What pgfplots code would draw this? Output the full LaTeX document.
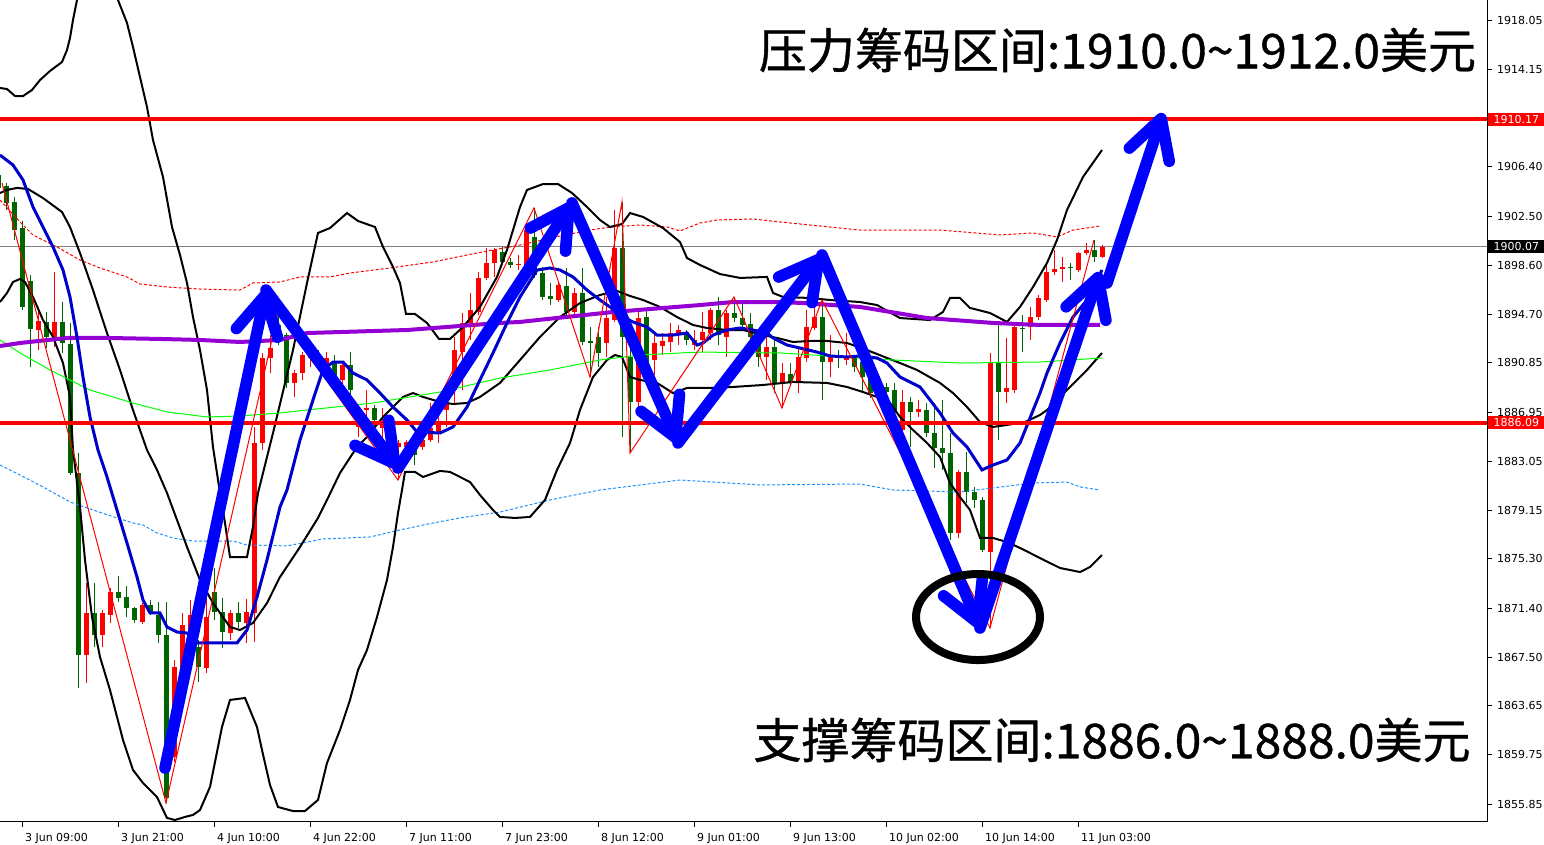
\documentclass[border=0pt]{standalone}
\usepackage{fontspec}
\setmainfont{DejaVu Sans}
\newfontfamily\cjk[FakeBold=0.8]{Noto Sans CJK SC}
\usepackage{pgfplots}
\pgfplotsset{compat=1.18}
\usepackage{pgfplotstable}
\usetikzlibrary{arrows.meta}
\definecolor{cgreen}{RGB}{0,100,0}
\definecolor{cred}{RGB}{255,0,0}
\definecolor{mablue}{RGB}{0,0,205}
\definecolor{cpurple}{RGB}{148,0,211}
\definecolor{clime}{RGB}{0,255,0}
\definecolor{dblue}{RGB}{30,144,255}
\definecolor{abblue}{RGB}{0,0,255}

% bearish candles (green): x, body low, body high, wick low, wick high
\pgfplotstableread{
x bl bh wl wh
-2 1904.73 1905.76 1904.57 1906.15
6 1903.54 1904.88 1902.98 1905.12
14 1901.39 1903.62 1900.60 1904.01
22 1895.29 1901.55 1895.05 1902.11
30 1893.54 1897.35 1890.53 1897.82
46 1892.91 1894.10 1892.03 1894.89
62 1892.43 1894.10 1891.63 1895.68
70 1882.12 1892.35 1881.96 1894.02
78 1867.68 1882.12 1865.06 1883.70
94 1869.27 1871.01 1868.31 1873.39
118 1872.20 1872.68 1871.88 1873.95
126 1871.41 1872.28 1870.69 1873.15
134 1870.45 1871.41 1870.22 1871.49
150 1871.01 1871.65 1870.85 1872.04
158 1869.27 1870.85 1868.63 1871.88
166 1856.33 1869.27 1855.94 1871.88
198 1866.73 1868.31 1865.54 1868.87
214 1871.09 1872.68 1870.45 1874.58
222 1869.50 1871.09 1868.23 1872.20
238 1870.29 1871.01 1869.82 1871.88
278 1892.91 1893.86 1892.27 1894.65
286 1889.26 1893.06 1888.86 1893.22
318 1890.45 1891.32 1890.29 1891.87
334 1889.49 1890.92 1889.10 1891.48
350 1888.70 1890.68 1887.11 1891.71
374 1886.32 1887.27 1885.77 1887.51
414 1883.55 1884.10 1882.75 1884.50
502 1898.86 1899.65 1898.62 1900.05
510 1898.62 1898.86 1898.38 1899.17
534 1897.82 1900.84 1897.59 1903.14
542 1896.08 1897.98 1895.84 1898.46
550 1895.92 1896.16 1895.45 1897.19
566 1894.89 1896.95 1894.65 1898.38
582 1892.51 1896.40 1892.27 1898.38
590 1892.43 1892.59 1889.73 1893.70
598 1891.63 1892.91 1890.53 1893.70
622 1892.91 1899.97 1884.97 1903.62
630 1887.75 1891.32 1883.70 1893.46
646 1890.92 1894.49 1890.45 1895.05
686 1892.67 1893.30 1892.27 1893.46
718 1893.06 1895.05 1892.27 1896.08
734 1894.41 1894.81 1894.10 1896.08
742 1893.86 1894.41 1893.46 1895.60
750 1892.91 1893.94 1892.51 1894.81
758 1891.32 1892.91 1890.53 1893.46
774 1889.26 1892.11 1888.46 1892.91
790 1889.34 1889.97 1889.10 1890.84
822 1890.92 1894.49 1887.91 1895.84
838 1891.24 1891.48 1890.45 1891.87
854 1890.53 1891.24 1890.13 1891.48
862 1889.73 1890.92 1888.46 1891.63
870 1888.46 1889.73 1888.07 1890.13
878 1888.70 1888.94 1888.31 1889.26
886 1888.54 1888.94 1888.15 1889.26
894 1886.88 1888.70 1886.48 1889.26
910 1886.96 1887.75 1884.18 1888.15
926 1885.29 1887.11 1884.97 1887.67
934 1884.10 1885.29 1882.51 1887.67
942 1883.70 1884.10 1882.35 1887.91
950 1877.36 1883.70 1876.80 1885.29
966 1880.61 1882.20 1879.74 1883.78
974 1879.97 1880.61 1879.34 1881.01
982 1876.01 1879.97 1875.85 1880.21
998 1888.54 1890.92 1884.73 1893.86
1022 1893.54 1893.62 1891.71 1894.65
1070 1898.38 1898.46 1897.43 1898.78
1094 1899.25 1899.81 1898.86 1900.60
}\greencandles

% bullish candles (red)
\pgfplotstableread{
x bl bh wl wh
38 1893.46 1894.18 1891.87 1895.05
54 1892.91 1894.10 1892.11 1898.06
86 1867.68 1871.01 1865.46 1873.39
102 1869.27 1871.01 1868.31 1871.25
110 1870.85 1872.68 1870.22 1873.00
142 1870.29 1871.65 1870.14 1871.80
174 1859.59 1866.73 1859.19 1867.28
182 1863.87 1870.06 1863.32 1871.01
190 1868.23 1870.85 1867.28 1872.04
206 1866.65 1870.69 1866.25 1872.84
230 1869.42 1871.01 1868.87 1871.25
246 1870.22 1871.09 1868.63 1872.12
254 1871.01 1884.50 1868.71 1885.77
262 1884.50 1891.24 1883.94 1891.63
270 1891.24 1892.03 1890.05 1893.06
294 1889.26 1890.05 1888.15 1890.29
302 1890.05 1891.48 1889.49 1891.71
310 1891.24 1891.71 1890.53 1892.27
326 1889.89 1891.24 1889.49 1891.71
342 1889.49 1890.68 1889.10 1890.92
358 1885.77 1886.16 1884.97 1886.56
366 1887.11 1887.27 1885.29 1888.70
382 1885.69 1886.08 1884.73 1887.27
390 1884.50 1884.73 1883.94 1885.53
398 1884.18 1884.50 1881.56 1884.73
406 1884.18 1884.58 1883.55 1884.73
422 1884.18 1884.73 1883.94 1884.97
430 1884.73 1885.69 1884.58 1887.67
438 1885.37 1886.16 1884.50 1886.56
446 1887.11 1887.67 1885.77 1888.15
454 1888.70 1891.87 1887.67 1892.91
462 1891.71 1894.02 1888.70 1894.81
470 1894.02 1895.05 1892.67 1896.40
478 1894.89 1897.59 1894.65 1898.06
486 1897.59 1898.78 1897.43 1899.97
494 1898.78 1899.81 1897.67 1899.97
518 1898.62 1898.70 1898.22 1899.41
526 1898.62 1901.39 1898.38 1901.55
558 1895.84 1897.03 1895.68 1897.27
574 1894.89 1896.40 1894.65 1896.79
606 1892.43 1894.41 1891.32 1896.08
614 1894.26 1899.97 1894.10 1902.98
638 1887.75 1894.41 1887.11 1894.89
654 1891.08 1892.43 1889.89 1893.22
662 1892.19 1892.59 1891.48 1893.22
670 1892.51 1893.22 1891.71 1894.02
678 1893.22 1893.46 1892.27 1893.86
694 1892.27 1892.67 1891.87 1893.46
702 1892.67 1893.30 1891.71 1894.89
710 1893.22 1895.05 1892.67 1895.21
726 1892.91 1894.81 1891.32 1895.05
766 1891.32 1892.11 1889.49 1892.91
782 1889.26 1890.05 1887.27 1890.84
798 1889.34 1891.32 1888.46 1892.03
806 1891.24 1893.70 1890.92 1895.05
814 1893.62 1894.49 1893.46 1895.29
830 1890.92 1891.32 1889.73 1893.06
846 1891.08 1891.24 1890.68 1893.22
902 1885.53 1887.75 1885.29 1888.70
918 1886.96 1887.19 1886.56 1887.91
958 1877.36 1882.20 1876.96 1882.35
990 1875.85 1890.84 1869.82 1891.63
1006 1888.54 1888.86 1887.67 1892.83
1014 1888.70 1893.70 1888.46 1893.86
1030 1893.70 1894.49 1892.67 1895.29
1038 1894.49 1896.00 1894.26 1896.24
1046 1895.84 1898.06 1895.68 1898.78
1054 1898.06 1898.30 1897.82 1899.81
1062 1898.30 1898.46 1897.27 1899.25
1078 1898.22 1899.57 1898.06 1899.65
1086 1899.57 1899.81 1899.41 1900.36
1102 1899.25 1900.07 1899.17 1900.20
}\redcandles

\begin{document}
\begin{tikzpicture}
\begin{axis}[
  at={(0,0)}, anchor=south west,
  width=743.5pt, height=411pt, scale only axis,
  xmin=0, xmax=1487, ymin=1854.43, ymax=1919.64,
  axis x line*=bottom, axis y line*=right,
  axis line style={line width=0.5pt, black},
  tick align=outside, major tick length=2.5pt,
  tick style={black, line width=0.5pt},
  xtick={22,118,214,310,406,502,598,694,790,886,982,1078},
  xticklabels={3 Jun 09:00,3 Jun 21:00,4 Jun 10:00,4 Jun 22:00,7 Jun 11:00,7 Jun 23:00,8 Jun 12:00,9 Jun 01:00,9 Jun 13:00,10 Jun 02:00,10 Jun 14:00,11 Jun 03:00},
  xticklabel style={anchor=north west, xshift=-2pt, yshift=0.5pt, font=\fontsize{5.5}{6}\selectfont},
  ytick={1855.85,1859.75,1863.65,1867.50,1871.40,1875.30,1879.15,1883.05,1886.95,1890.85,1894.70,1898.60,1902.50,1906.40,1910.25,1914.15,1918.05},
  yticklabels={1855.85,1859.75,1863.65,1867.50,1871.40,1875.30,1879.15,1883.05,1886.95,1890.85,1894.70,1898.60,1902.50,1906.40,{},1914.15,1918.05},
  yticklabel style={anchor=west, xshift=-1pt, font=\fontsize{5.5}{6}\selectfont},
  clip=true,
  candle/.style={forget plot, only marks, mark=*, mark size=0pt, mark options={draw=none, fill=none}},
]
% current price line
\addplot[gray, line width=0.5pt, forget plot] coordinates {(0,1900.07) (1487,1900.07)};

% candles: wicks and bodies as vertical error bars
\addplot[candle,
  error bars/.cd, y dir=plus, y explicit, error mark=none,
  error bar style={line width=0.5pt, draw=cgreen}]
  table[x=x, y=wl, y error expr=\thisrow{wh}-\thisrow{wl}] {\greencandles};
\addplot[candle,
  error bars/.cd, y dir=plus, y explicit, error mark=none,
  error bar style={line width=2.5pt, draw=cgreen}]
  table[x=x, y=bl, y error expr=\thisrow{bh}-\thisrow{bl}] {\greencandles};
\addplot[candle,
  error bars/.cd, y dir=plus, y explicit, error mark=none,
  error bar style={line width=0.5pt, draw=cred}]
  table[x=x, y=wl, y error expr=\thisrow{wh}-\thisrow{wl}] {\redcandles};
\addplot[candle,
  error bars/.cd, y dir=plus, y explicit, error mark=none,
  error bar style={line width=2.5pt, draw=cred}]
  table[x=x, y=bl, y error expr=\thisrow{bh}-\thisrow{bl}] {\redcandles};

% envelope lines
\addplot[cred, line width=0.5pt, dash pattern=on 1.5pt off 1pt] coordinates {
(0,1903.77) (20,1902.03) (33,1901.00) (57,1900.05) (80,1899.01) (100,1898.38) (127,1897.67) (140,1897.11) (167,1896.87) (200,1896.71) (240,1896.63) (253,1897.19) (280,1897.27) (300,1897.67) (330,1897.67) (350,1897.98) (390,1898.38) (433,1898.86) (467,1899.41) (493,1899.81) (520,1900.20) (560,1900.92) (590,1901.39) (610,1901.63) (640,1901.79) (667,1901.63) (680,1901.32) (700,1901.95) (717,1902.19) (753,1902.27) (780,1902.03) (860,1901.39) (940,1901.39) (1000,1901.00) (1033,1901.16) (1057,1900.84) (1073,1901.39) (1100,1901.71)};
\addplot[dblue, line width=0.5pt, dash pattern=on 1.5pt off 1pt] coordinates {
(0,1882.75) (20,1881.96) (43,1881.01) (70,1879.82) (93,1879.18) (117,1878.55) (133,1878.15) (143,1877.99) (157,1877.36) (173,1876.96) (193,1876.72) (233,1876.72) (247,1876.41) (287,1876.33) (323,1876.88) (370,1877.04) (400,1877.60) (433,1878.15) (460,1878.55) (500,1879.02) (550,1879.98) (600,1880.77) (680,1881.56) (760,1881.17) (860,1881.24) (893,1880.77) (960,1880.61) (1033,1881.32) (1067,1881.40) (1080,1881.01) (1100,1880.77)};

% Bollinger bands
\addplot[black, line width=1pt] coordinates {
(0,1912.66) (7,1912.58) (15,1912.02) (23,1912.02) (32,1912.50) (40,1913.29) (50,1914.01) (62,1914.72) (67,1915.67) (70,1916.63) (73,1918.05) (77,1919.64) (85,1922.81) (98,1924.40) (110,1922.02) (118,1919.64) (127,1917.82) (133,1915.91) (140,1913.53) (147,1911.15) (153,1908.53) (163,1905.60) (172,1901.63) (180,1899.41) (187,1897.19) (193,1894.49) (200,1891.87) (207,1888.70) (213,1884.18) (220,1880.53) (225,1878.15) (230,1875.45) (247,1875.45) (253,1877.83) (258,1880.53) (273,1885.29) (293,1891.87) (307,1897.19) (318,1901.16) (330,1901.55) (347,1902.74) (358,1902.11) (375,1901.63) (383,1900.05) (393,1898.46) (400,1897.19) (406,1894.73) (415,1894.73) (427,1894.02) (439,1892.75) (450,1892.75) (463,1893.70) (480,1895.29) (497,1897.67) (507,1899.81) (520,1903.22) (527,1904.57) (543,1905.04) (558,1905.04) (572,1904.33) (587,1903.22) (600,1902.19) (610,1901.63) (622,1901.87) (630,1902.74) (643,1902.43) (663,1901.55) (680,1900.44) (687,1899.17) (700,1898.62) (720,1897.90) (740,1897.59) (767,1897.67) (773,1896.40) (783,1896.08) (810,1896.00) (830,1895.84) (860,1895.68) (877,1895.44) (900,1894.41) (930,1894.25) (943,1894.89) (950,1896.00) (960,1896.00) (970,1895.21) (990,1894.81) (1007,1894.10) (1020,1895.29) (1033,1896.87) (1047,1898.78) (1057,1900.60) (1067,1902.98) (1083,1905.60) (1102,1907.74)};
\addplot[black, line width=1pt] coordinates {
(0,1904.33) (7,1904.57) (17,1904.73) (28,1904.65) (43,1903.93) (62,1902.82) (70,1901.63) (80,1899.57) (93,1896.63) (107,1893.22) (120,1890.29) (133,1887.11) (147,1883.94) (157,1882.36) (167,1880.53) (177,1878.39) (187,1876.25) (200,1873.63) (213,1871.80) (230,1869.90) (240,1869.66) (253,1870.22) (267,1871.80) (280,1873.87) (300,1876.25) (318,1878.55) (327,1879.98) (340,1882.12) (357,1884.18) (367,1884.97) (383,1886.56) (403,1888.15) (413,1888.46) (423,1888.15) (440,1887.75) (453,1887.59) (467,1887.67) (480,1888.15) (500,1889.26) (520,1891.08) (540,1892.91) (560,1894.49) (580,1895.60) (600,1896.24) (617,1896.56) (630,1896.16) (643,1895.84) (660,1895.29) (677,1894.49) (693,1893.86) (707,1893.62) (727,1893.46) (743,1893.46) (763,1893.06) (777,1892.83) (793,1892.51) (810,1892.59) (827,1892.59) (847,1892.43) (867,1891.87) (887,1891.24) (900,1890.84) (917,1890.29) (940,1889.26) (953,1888.46) (967,1887.35) (980,1886.16) (993,1885.77) (1007,1885.93) (1025,1886.16) (1040,1886.72) (1047,1887.11) (1067,1888.70) (1087,1890.29) (1102,1891.64)};
\addplot[black, line width=1pt] coordinates {
(0,1895.68) (7,1896.40) (13,1897.27) (20,1897.51) (25,1897.27) (33,1896.08) (43,1894.25) (53,1892.91) (63,1890.84) (70,1888.15) (73,1883.94) (80,1879.42) (85,1875.22) (92,1870.69) (100,1867.52) (110,1864.90) (123,1860.94) (133,1858.56) (143,1857.52) (157,1856.41) (167,1854.75) (175,1854.59) (185,1854.83) (193,1854.99) (200,1855.38) (210,1857.21) (222,1861.97) (230,1864.11) (245,1864.27) (257,1861.97) (262,1860.14) (270,1857.37) (278,1855.62) (293,1855.30) (305,1855.30) (318,1856.18) (327,1859.11) (340,1861.73) (350,1864.11) (358,1866.49) (367,1868.08) (377,1870.69) (387,1873.63) (393,1876.25) (398,1878.94) (402,1880.77) (405,1882.20) (415,1882.20) (423,1881.80) (440,1882.28) (450,1882.20) (470,1881.40) (480,1880.37) (493,1879.18) (500,1878.63) (515,1878.55) (530,1878.63) (545,1879.98) (557,1882.36) (570,1884.50) (580,1887.12) (593,1889.73) (607,1891.08) (615,1891.48) (622,1891.32) (630,1889.73) (640,1889.50) (657,1889.26) (673,1888.46) (687,1888.86) (713,1888.86) (733,1888.94) (763,1889.10) (793,1889.34) (827,1889.26) (847,1888.94) (863,1888.54) (877,1888.15) (890,1887.67) (900,1886.56) (913,1885.53) (927,1884.50) (940,1883.39) (950,1881.32) (960,1880.21) (970,1879.18) (980,1876.96) (993,1876.96) (1007,1876.64) (1020,1876.17) (1040,1875.37) (1060,1874.58) (1080,1874.26) (1090,1874.66) (1102,1875.61)};

% long moving averages
\addplot[clime, line width=0.5pt] coordinates {
(0,1892.67) (20,1891.64) (50,1890.29) (90,1888.70) (133,1887.67) (167,1886.96) (207,1886.56) (240,1886.64) (280,1886.88) (307,1887.11) (373,1887.67) (440,1888.54) (500,1889.65) (550,1890.29) (600,1891.08) (640,1891.48) (700,1891.71) (780,1891.64) (893,1891.08) (960,1890.84) (1040,1890.92) (1102,1891.24)};
\addplot[cpurple, line width=2pt] coordinates {
(0,1892.19) (20,1892.43) (67,1892.83) (107,1892.83) (160,1892.75) (200,1892.67) (240,1892.51) (280,1892.67) (307,1893.22) (407,1893.46) (500,1894.02) (520,1894.10) (613,1894.89) (700,1895.44) (733,1895.68) (780,1895.68) (803,1895.60) (860,1895.29) (927,1894.41) (993,1894.02) (1040,1893.86) (1100,1893.86)};
% short moving average
\addplot[mablue, line width=1.5pt] coordinates {
(0,1907.34) (13,1906.55) (23,1905.36) (33,1903.22) (43,1901.63) (53,1900.05) (63,1898.22) (70,1896.08) (77,1892.91) (83,1889.73) (90,1886.56) (98,1883.94) (107,1881.80) (117,1879.18) (127,1876.56) (137,1873.87) (143,1872.04) (150,1871.01) (160,1871.01) (167,1869.90) (177,1869.50) (187,1869.42) (197,1868.63) (220,1868.63) (237,1868.63) (247,1869.66) (257,1872.28) (267,1875.22) (280,1879.42) (287,1880.77) (300,1884.73) (313,1887.91) (323,1890.29) (333,1890.92) (343,1890.92) (353,1890.05) (367,1889.50) (380,1888.46) (393,1887.35) (407,1886.32) (417,1885.37) (440,1885.29) (453,1885.77) (467,1887.35) (480,1889.50) (493,1891.64) (507,1894.02) (520,1896.08) (537,1898.22) (550,1898.38) (560,1898.22) (573,1897.67) (587,1896.63) (600,1895.84) (610,1895.29) (623,1894.49) (633,1894.10) (647,1893.70) (657,1893.06) (673,1893.06) (687,1893.22) (697,1892.27) (703,1892.43) (713,1893.06) (727,1893.46) (740,1893.62) (753,1893.46) (767,1893.22) (773,1892.83) (787,1892.27) (800,1892.03) (817,1891.71) (830,1891.40) (847,1891.32) (860,1891.40) (877,1891.24) (887,1890.84) (900,1889.73) (920,1888.94) (940,1886.88) (953,1885.29) (967,1884.18) (982,1882.36) (993,1882.75) (1007,1883.15) (1020,1884.50) (1040,1888.46) (1047,1890.05) (1060,1892.43) (1073,1894.49) (1087,1895.84) (1102,1898.22)};

% zigzag
\addplot[cred, line width=0.5pt] coordinates {
(2,1905.12) (166,1855.94) (278,1894.81) (398,1881.56) (534,1903.14) (590,1889.73) (622,1903.62) (630,1883.70) (734,1896.08) (782,1887.27) (822,1895.84) (990,1869.82) (1094,1900.60)};

% support / resistance lines
\addplot[cred, line width=2pt] coordinates {(0,1910.17) (1487,1910.17)};
\addplot[cred, line width=2pt] coordinates {(0,1886.09) (1487,1886.09)};

% hand-drawn arrows
\pgfplotsset{bigarrow/.style={abblue, line width=5.8pt, line cap=round, line join=round,
  -{Straight Barb[length=19pt, width=21pt, round]}}}
\addplot[bigarrow] coordinates {(165,1858.71) (266,1896.63)};
\addplot[bigarrow] coordinates {(266,1896.63) (398,1882.51)};
\addplot[bigarrow] coordinates {(398,1882.51) (572,1903.54)};
\addplot[bigarrow] coordinates {(572,1903.54) (678,1884.50)};
\addplot[bigarrow] coordinates {(678,1884.50) (822,1899.41)};
\addplot[bigarrow] coordinates {(822,1899.41) (980,1869.82)};
\addplot[bigarrow] coordinates {(980,1869.82) (1100,1898.06)};
\addplot[bigarrow] coordinates {(1107,1897.19) (1163,1910.67)};

\draw[black, line width=4pt] (axis cs:978,1870.69) ellipse [x radius=31pt, y radius=21.5pt];

\node[font=\cjk\fontsize{24}{28}\selectfont, inner sep=0pt] at (axis cs:1117.5,1915.67) {压力筹码区间:1910.0\string~1912.0美元};
\node[font=\cjk\fontsize{24}{28}\selectfont, inner sep=0pt] at (axis cs:1112,1860.94) {支撑筹码区间:1886.0\string~1888.0美元};

\coordinate (L1) at (axis cs:1487,1910.17);
\coordinate (L2) at (axis cs:1487,1900.07);
\coordinate (L3) at (axis cs:1487,1886.09);
\end{axis}
\node[fill=cred, text=white, anchor=west, inner sep=0pt, minimum width=28pt, minimum height=6.5pt, font=\fontsize{5.5}{6}\selectfont] at ([xshift=0.5pt]L1) {1910.17};
\node[fill=black, text=white, anchor=west, inner sep=0pt, minimum width=28pt, minimum height=6.5pt, font=\fontsize{5.5}{6}\selectfont] at ([xshift=0.5pt]L2) {1900.07};
\node[fill=cred, text=white, anchor=west, inner sep=0pt, minimum width=28pt, minimum height=6.5pt, font=\fontsize{5.5}{6}\selectfont] at ([xshift=0.5pt]L3) {1886.09};
\pgfresetboundingbox
\path (0,-11.5pt) rectangle (772pt,411pt);
\end{tikzpicture}
\end{document}
